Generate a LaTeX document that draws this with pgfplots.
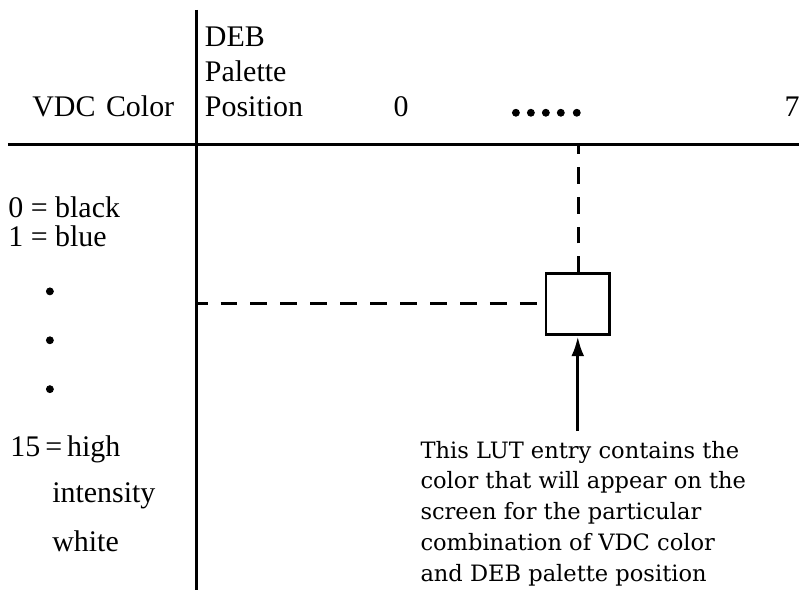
\documentclass[border=0pt]{standalone}
\usepackage{fontspec}
\setmainfont{Liberation Serif}
\newfontfamily\schola{DejaVu Serif}
\usepackage{pgfplots}
\pgfplotsset{compat=1.18}
\usetikzlibrary{arrows.meta}
\begin{document}
\begin{tikzpicture}[
  lbl/.style={font=\fontsize{15}{17}\selectfont, inner sep=0pt, anchor=base west},
  note/.style={font=\schola\fontsize{11.3}{15.5}\selectfont, inner sep=0pt, anchor=base west}]
\begin{axis}[hide axis, scale only axis, width=400.5pt, height=295.5pt,
  xmin=0, xmax=801, ymin=0, ymax=591, y dir=reverse, clip=false]
\addplot[draw=none, forget plot] coordinates {(0,0) (801,591)};
% main cross lines
\addplot[black, line width=1.8pt] coordinates {(197,10) (197,591)};
\addplot[black, line width=1.7pt] coordinates {(8,145) (801,145)};
% dashed guides
\addplot[black, line width=1.4pt, dash pattern=on 8.5pt off 6.5pt, dash phase=3pt] coordinates {(197,304) (547,304)};
\addplot[black, line width=1.4pt, dash pattern=on 8.5pt off 6.5pt] coordinates {(580,274) (580,145)};
% LUT entry box
\addplot[black, line width=1.35pt, line join=miter] coordinates {(547,274) (611,274) (611,335) (547,335) (547,274) (611,274)};
% arrow
\addplot[black, line width=1.6pt, -{Latex[length=10pt,width=6.5pt]}] coordinates {(579,432) (579,337)};
% dots
\addplot[only marks, mark=*, mark size=1.75pt, black] coordinates {(517,113) (532,113) (547,113) (562,113) (578,113)};
\addplot[only marks, mark=*, mark size=1.75pt, black] coordinates {(50,292) (50,341) (50,390)};
% header text
\node[lbl] at (axis cs:32,117) {VDC\hspace{0.35em}Color};
\node[lbl] at (axis cs:205,47) {DEB};
\node[lbl] at (axis cs:205,82) {Palette};
\node[lbl] at (axis cs:205,117) {Position};
\node[lbl] at (axis cs:394,117) {0};
\node[lbl] at (axis cs:786,117) {7};
% left labels
\node[lbl] at (axis cs:8,218) {0 = black};
\node[lbl] at (axis cs:8,247) {1 = blue};
\node[lbl] at (axis cs:10,457) {15\,=\,high};
\node[lbl] at (axis cs:52,504) {intensity};
\node[lbl] at (axis cs:52,553) {white};
% note
\node[note] at (axis cs:421,459) {This LUT entry contains the};
\node[note] at (axis cs:421,490) {color that will appear on the};
\node[note] at (axis cs:421,521) {screen for the particular};
\node[note] at (axis cs:421,552) {combination of VDC color};
\node[note] at (axis cs:421,583) {and DEB palette position};
\end{axis}
\end{tikzpicture}
\end{document}
